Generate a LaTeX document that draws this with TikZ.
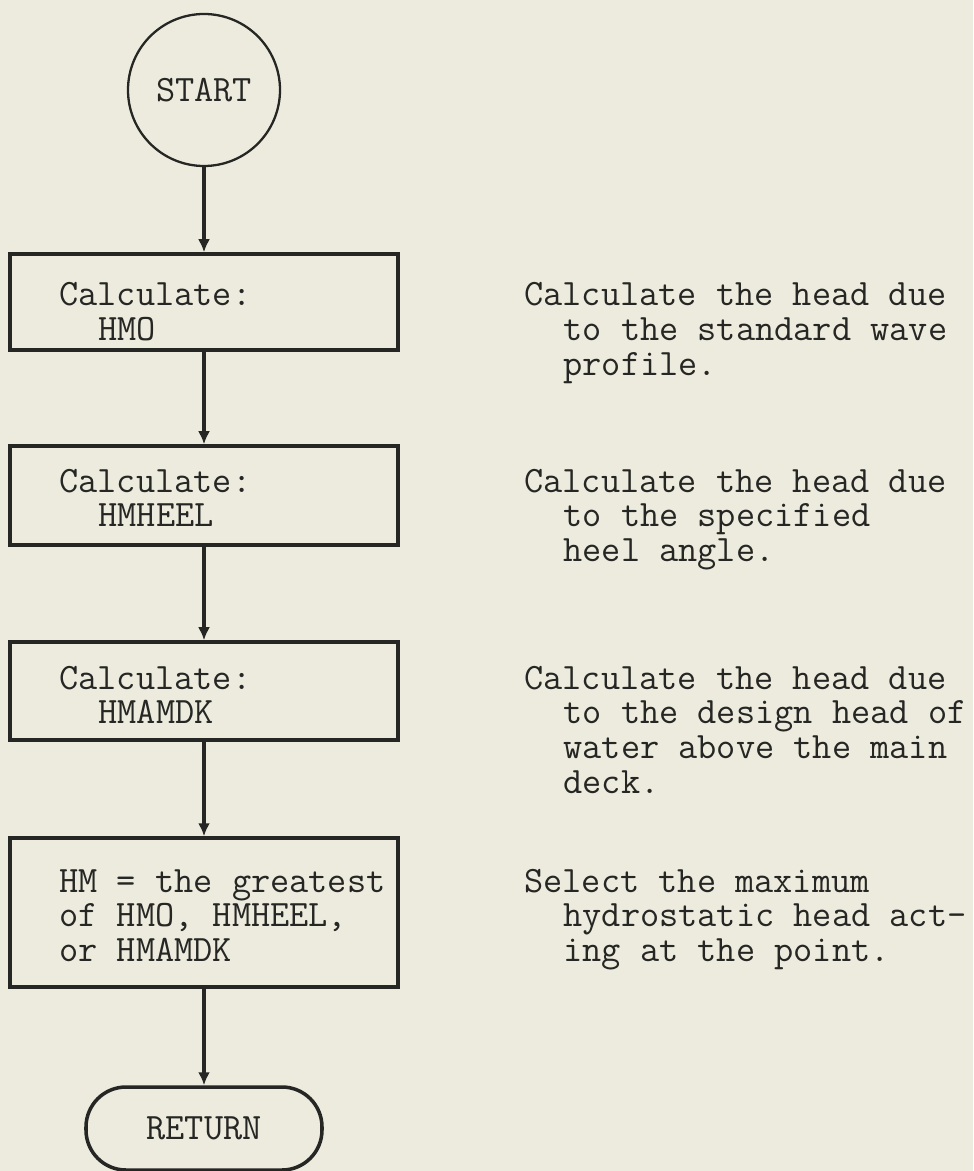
\documentclass[tikz,border=0pt]{standalone}
\usepackage{fontspec}
\usetikzlibrary{arrows.meta}

\definecolor{paper}{RGB}{236,235,221}
\definecolor{ink}{RGB}{38,38,36}
\newcommand{\twosp}{\hspace*{1.05em}}
\newcommand{\lines}[1]{\begin{tabular}[t]{@{}l@{}}#1\end{tabular}}

\begin{document}
\begin{tikzpicture}[
    box/.style={draw=ink, line width=2pt, minimum width=7.76cm},
    txt/.style={anchor=base west, inner sep=0pt, text=ink,
        font=\ttfamily\fontsize{21.2pt}{19.9pt}\selectfont},
    flow/.style={draw=ink, line width=2pt, -{Latex[length=0.26cm,width=0.24cm]}}
]
    % Paper and page size
    \fill[paper] (0,0) rectangle (19.46,-23.42);
    \useasboundingbox (0,0) rectangle (19.46,-23.42);

    % Start circle
    \node[draw=ink, line width=1.3pt, circle, minimum size=3.04cm, txt, anchor=center] (start) at (4.08,-1.80) {START};

    % The four boxes
    \node[box, minimum height=1.92cm] (hmo) at (4.08,-6.04) {};
    \node[box, minimum height=1.98cm] (hmheel) at (4.08,-9.91) {};
    \node[box, minimum height=1.96cm] (hmamdk) at (4.08,-13.82) {};
    \node[box, minimum height=2.98cm] (hmmax) at (4.08,-18.25) {};

    % Return terminal
    \node[draw=ink, line width=2pt, rounded corners=0.8cm, minimum width=4.72cm, minimum height=1.66cm,
        txt, anchor=center] (ret) at (4.08,-22.57) {RETURN};

    % Text in the boxes
    \node[txt] (hmotext) at (1.18,-6.12) {\lines{Calculate:\\\twosp HMO}};
    \node[txt] (hmheeltext) at (1.18,-9.84) {\lines{Calculate:\\\twosp HMHEEL}};
    \node[txt] (hmamdktext) at (1.18,-13.78) {\lines{Calculate:\\\twosp HMAMDK}};
    \node[txt] (hmmaxtext) at (1.18,-17.84) {\lines{HM = the greatest\\of HMO, HMHEEL,\\or HMAMDK}};

    % Notes on the right
    \node[txt] (hmonote) at (10.48,-6.12) {\lines{Calculate the head due\\\twosp to the standard wave\\\twosp profile.}};
    \node[txt] (hmheelnote) at (10.48,-9.84) {\lines{Calculate the head due\\\twosp to the specified\\\twosp heel angle.}};
    \node[txt] (hmamdknote) at (10.48,-13.78) {\lines{Calculate the head due\\\twosp to the design head of\\\twosp water above the main\\\twosp deck.}};
    \node[txt] (hmmaxnote) at (10.48,-17.84) {\lines{Select the maximum\\\twosp hydrostatic head act-\\\twosp ing at the point.}};

    % Arrows
    \draw[flow] (start) -- (hmo);
    \draw[flow] (hmo) -- (hmheel);
    \draw[flow] (hmheel) -- (hmamdk);
    \draw[flow] (hmamdk) -- (hmmax);
    \draw[flow] (hmmax) -- (ret);
\end{tikzpicture}
\end{document}
